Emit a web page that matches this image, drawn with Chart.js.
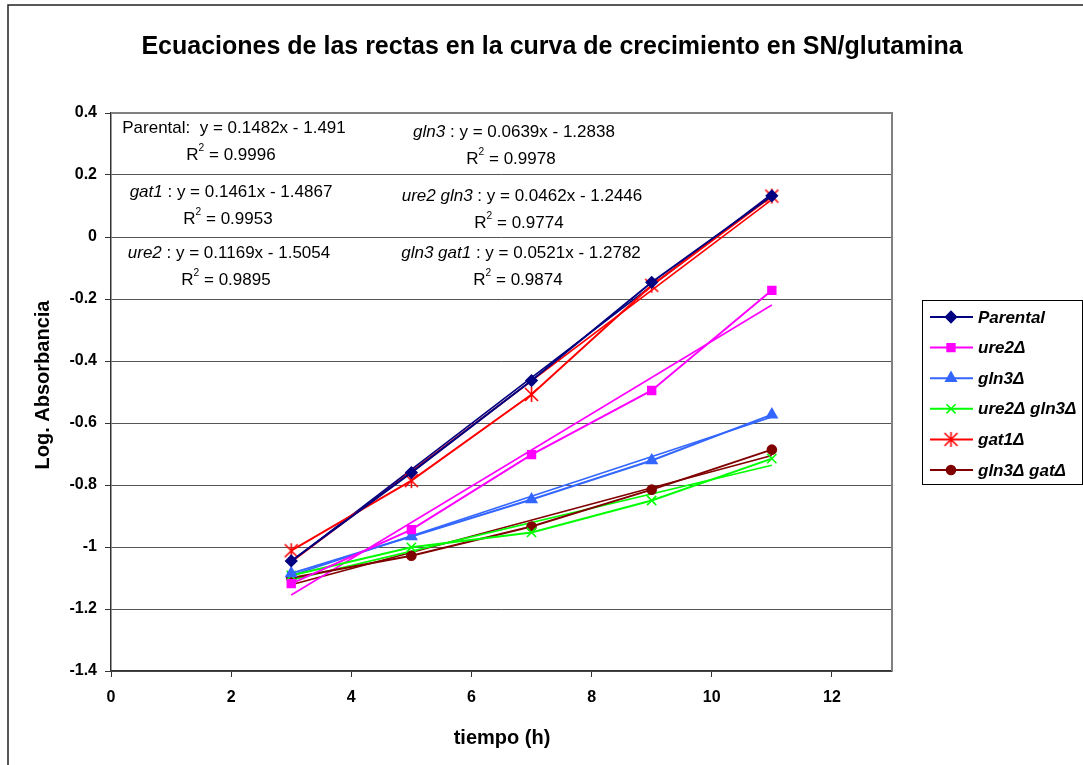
<!DOCTYPE html>
<html>
<head>
<meta charset="utf-8">
<script src="https://cdn.jsdelivr.net/npm/chart.js@4/dist/chart.umd.min.js"></script>
<style>
  html, body { margin: 0; padding: 0; background: #fff; }
  #wrap { width: 1083px; height: 765px; }
</style>
</head>
<body>
<div id="wrap"><canvas id="chart" width="1083" height="765"></canvas></div>
<script>
  // Data
  const tiempo = [3, 5, 7, 9, 11];
  const parental = [-1.045, -0.76, -0.463, -0.146, 0.133];
  const ure2 = [-1.118, -0.944, -0.702, -0.495, -0.172];
  const gln3 = [-1.085, -0.966, -0.847, -0.721, -0.573];
  const ure2gln3 = [-1.092, -1.001, -0.953, -0.85, -0.715];
  const gat1 = [-1.012, -0.786, -0.508, -0.156, 0.132];
  const gln3gat1 = [-1.10, -1.028, -0.934, -0.815, -0.686];

  const seriesNames = ['Parental', 'ure2\u0394', 'gln3\u0394', 'ure2\u0394 gln3\u0394', 'gat1\u0394', 'gln3\u0394 gat\u0394'];

  // Trendline equations printed on the chart
  const trendNames = ['Parental:', 'gat1', 'ure2', 'gln3', 'ure2 gln3', 'gln3 gat1'];
  const trendSlopes = [0.1482, 0.1461, 0.1169, 0.0639, 0.0462, 0.0521];
  const trendIntercepts = [-1.491, -1.4867, -1.5054, -1.2838, -1.2446, -1.2782];
  const trendR2 = [0.9996, 0.9953, 0.9895, 0.9978, 0.9774, 0.9874];

  const xTicks = [0, 2, 4, 6, 8, 10, 12];

  const FONT = '"Liberation Sans", Arial, sans-serif';

  // star marker like Excel (x with vertical bar)
  function makeStar(color) {
    const c = document.createElement('canvas');
    c.width = 17; c.height = 17;
    const g = c.getContext('2d');
    g.strokeStyle = color;
    g.lineWidth = 1.6;
    g.beginPath();
    g.moveTo(2, 2); g.lineTo(15, 15);
    g.moveTo(15, 2); g.lineTo(2, 15);
    g.moveTo(8.5, 1); g.lineTo(8.5, 16);
    g.stroke();
    return c;
  }

  function pts(ys) {
    return tiempo.map(function(x, i) { return { x: x, y: ys[i] }; });
  }

  function trendPts(k) {
    const x0 = tiempo[0], x1 = tiempo[tiempo.length - 1];
    return [
      { x: x0, y: trendSlopes[k] * x0 + trendIntercepts[k] },
      { x: x1, y: trendSlopes[k] * x1 + trendIntercepts[k] }
    ];
  }

  const styles = [
    { color: '#000080', pointStyle: 'rectRot', radius: 5.5 },
    { color: '#ff00ff', pointStyle: 'rect', radius: 5.5 },
    { color: '#3366ff', pointStyle: 'triangle', radius: 6 },
    { color: '#00ff00', pointStyle: 'crossRot', radius: 6.5 },
    { color: '#ff0000', pointStyle: makeStar('#ff0000'), radius: 8 },
    { color: '#800000', pointStyle: 'circle', radius: 4.5 }
  ];
  const seriesData = [parental, ure2, gln3, ure2gln3, gat1, gln3gat1];
  // which trendline belongs to which series
  const trendOf = [0, 4, 1, 2, 3, 5];

  const datasets = [];
  seriesData.forEach(function(ys, i) {
    const s = styles[i];
    datasets.push({
      label: seriesNames[i],
      data: pts(ys),
      showLine: true,
      borderColor: s.color,
      backgroundColor: s.color,
      borderWidth: 2,
      pointStyle: s.pointStyle,
      pointRadius: s.radius,
      pointHoverRadius: s.radius,
      pointBorderWidth: 1.6,
      tension: 0
    });
  });
  trendOf.forEach(function(si, k) {
    datasets.push({
      label: 'trend ' + trendNames[k],
      isTrend: true,
      data: trendPts(k),
      showLine: true,
      borderColor: styles[si].color,
      borderWidth: 1.6,
      pointRadius: 0,
      tension: 0
    });
  });

  // text helpers
  function drawRich(ctx, segs, cx, cy, size) {
    let total = 0;
    segs.forEach(function(s) {
      ctx.font = (s.i ? 'italic ' : '') + (s.sup ? size * 0.6 : size) + 'px ' + FONT;
      s.w = ctx.measureText(s.t).width;
      total += s.w;
    });
    let x = cx - total / 2;
    ctx.textAlign = 'left';
    ctx.textBaseline = 'middle';
    segs.forEach(function(s) {
      ctx.font = (s.i ? 'italic ' : '') + (s.sup ? size * 0.6 : size) + 'px ' + FONT;
      ctx.fillText(s.t, x, s.sup ? cy - size * 0.38 : cy);
      x += s.w;
    });
  }

  function eqText(k) {
    const b = trendIntercepts[k];
    return 'y = ' + trendSlopes[k] + 'x ' + (b < 0 ? '- ' : '+ ') + Math.abs(b);
  }

  // block centres for the equation labels
  const eqPos = [
    { cx: 234, cy: 128 }, { cx: 231, cy: 192 }, { cx: 229, cy: 253 },
    { cx: 514, cy: 132 }, { cx: 522, cy: 196 }, { cx: 521, cy: 253 }
  ];

  const decorPlugin = {
    id: 'decor',
    beforeDraw: function(chart) {
      const ctx = chart.ctx;
      ctx.save();
      ctx.fillStyle = '#ffffff';
      ctx.fillRect(0, 0, chart.width, chart.height);
      ctx.restore();
    },
    afterDatasetsDraw: function(chart) {
      const ctx = chart.ctx;
      const a = chart.chartArea;
      ctx.save();
      // plot border top/right
      ctx.strokeStyle = '#808080';
      ctx.lineWidth = 2;
      ctx.beginPath();
      ctx.moveTo(a.left, a.top);
      ctx.lineTo(a.right, a.top);
      ctx.lineTo(a.right, a.bottom);
      ctx.stroke();

      // equation labels
      ctx.fillStyle = '#000';
      trendNames.forEach(function(name, k) {
        const p = eqPos[k];
        let segs;
        if (k === 0) {
          segs = [{ t: name + '  ' + eqText(k) }];
        } else {
          segs = [{ t: name, i: true }, { t: ' : ' + eqText(k) }];
        }
        drawRich(ctx, segs, p.cx, p.cy, 17);
        drawRich(ctx, [{ t: 'R' }, { t: '2', sup: true }, { t: ' = ' + trendR2[k] }], p.cx - 3, p.cy + 27, 17);
      });
      ctx.restore();
    },
    afterDraw: function(chart) {
      const ctx = chart.ctx;
      const a = chart.chartArea;
      ctx.save();
      // outer frame
      ctx.strokeStyle = '#222';
      ctx.lineWidth = 1.5;
      ctx.strokeRect(8, 5, 1100, 800);

      // title
      ctx.fillStyle = '#000';
      ctx.textAlign = 'center';
      ctx.textBaseline = 'middle';
      ctx.font = 'bold 25px ' + FONT;
      ctx.fillText('Ecuaciones de las rectas en la curva de crecimiento en SN/glutamina', 552, 47);

      // axis titles
      ctx.font = 'bold 20px ' + FONT;
      ctx.fillText('tiempo (h)', 502, 738);
      ctx.save();
      ctx.translate(43, 385);
      ctx.rotate(-Math.PI / 2);
      ctx.fillText('Log. Absorbancia', 0, 0);
      ctx.restore();

      // legend
      const lx = 922, ly = 300, lw = 160, lh = 184;
      ctx.strokeStyle = '#000';
      ctx.lineWidth = 1;
      ctx.fillStyle = '#fff';
      ctx.fillRect(lx, ly, lw, lh);
      ctx.strokeRect(lx + 0.5, ly + 0.5, lw, lh);
      const metas = chart.data.datasets;
      let row = 0;
      metas.forEach(function(ds) {
        if (ds.isTrend) return;
        const y = ly + 17 + row * 30.6;
        ctx.strokeStyle = ds.borderColor;
        ctx.lineWidth = 2;
        ctx.beginPath();
        ctx.moveTo(lx + 8, y);
        ctx.lineTo(lx + 51, y);
        ctx.stroke();
        ctx.fillStyle = ds.backgroundColor;
        ctx.lineWidth = 1.6;
        Chart.helpers.drawPoint(ctx, {
          pointStyle: ds.pointStyle,
          radius: ds.pointRadius,
          borderWidth: 1.6,
          rotation: 0
        }, lx + 29, y);
        ctx.fillStyle = '#000';
        ctx.font = 'italic bold 17px ' + FONT;
        ctx.textAlign = 'left';
        ctx.textBaseline = 'middle';
        ctx.fillText(ds.label, lx + 56, y + 1);
        row++;
      });
      ctx.restore();
    }
  };

  const tickFont = { family: FONT, size: 16, weight: 'bold' };

  new Chart(document.getElementById('chart').getContext('2d'), {
    type: 'scatter',
    data: { datasets: datasets },
    options: {
      responsive: false,
      animation: false,
      events: [],
      layout: { padding: { top: 113, right: 191, bottom: 0, left: 0 } },
      plugins: {
        legend: { display: false },
        title: { display: false },
        tooltip: { enabled: false }
      },
      scales: {
        x: {
          type: 'linear',
          min: 0,
          max: 13,
          afterBuildTicks: function(scale) {
            scale.ticks = xTicks.map(function(v) { return { value: v }; });
          },
          afterFit: function(scale) { scale.height = 94; },
          ticks: { color: '#000', font: tickFont, padding: 11, maxRotation: 0 },
          grid: { drawOnChartArea: false, drawTicks: true, tickLength: 6, color: '#333' },
          border: { color: '#333', width: 1.5 }
        },
        y: {
          type: 'linear',
          min: -1.4,
          max: 0.4,
          afterFit: function(scale) { scale.width = 111; },
          ticks: {
            stepSize: 0.2,
            color: '#000',
            font: tickFont,
            padding: 8,
            callback: function(v) { return String(Math.round(v * 10) / 10); }
          },
          grid: { color: '#555', lineWidth: 1, tickLength: 6, tickColor: '#333' },
          border: { color: '#333', width: 1.5 }
        }
      }
    },
    plugins: [decorPlugin]
  });
</script>
</body>
</html>
